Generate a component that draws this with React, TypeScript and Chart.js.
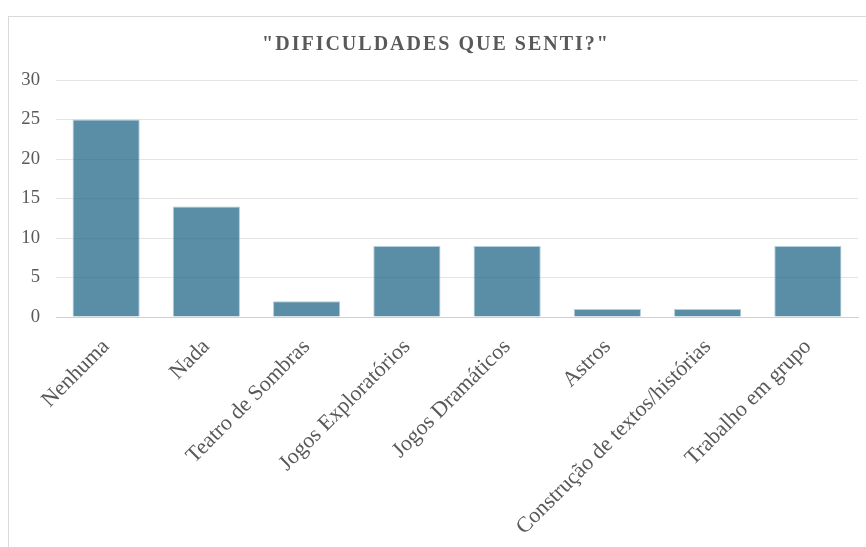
import React, { useEffect, useRef } from "react";
import { Chart, registerables } from "chart.js";

Chart.register(...registerables);

const TITLE = '"DIFICULDADES QUE SENTI?"';
const categories = [
  "Nenhuma",
  "Nada",
  "Teatro de Sombras",
  "Jogos Exploratórios",
  "Jogos Dramáticos",
  "Astros",
  "Construção de textos/histórias",
  "Trabalho em grupo",
];
const values = [25, 14, 2, 9, 9, 1, 1, 9];
const yMin = 0;
const yMax = 30;
const yStep = 5;

const FONT = '"Liberation Serif", "Times New Roman", serif';

export default function App() {
  const ref = useRef<HTMLCanvasElement | null>(null);
  useEffect(() => {
    if (!ref.current) return;
    const titlePlugin = {
      id: "customTitle",
      afterDraw(chart: any) {
        const ctx = chart.ctx as CanvasRenderingContext2D;
        ctx.save();
        ctx.font = `bold 20px ${FONT}`;
        (ctx as any).letterSpacing = "2px";
        ctx.fillStyle = "#595959";
        ctx.textAlign = "center";
        ctx.textBaseline = "middle";
        ctx.fillText(TITLE, 436, 45);
        ctx.restore();
      },
    };
    const chart = new Chart(ref.current, {
      type: "bar",
      data: {
        labels: categories,
        datasets: [
          {
            data: values,
            backgroundColor: "rgba(35,104,136,0.75)",
            borderColor: "rgba(170,200,215,0.9)",
            borderWidth: 1,
            categoryPercentage: 0.67,
            barPercentage: 1,
          },
        ],
      },
      options: {
        responsive: false,
        animation: false,
        layout: { padding: { left: 8, right: 8, top: 80, bottom: 0 } },
        plugins: {
          legend: { display: false },
          title: { display: false },
          tooltip: { enabled: false },
        },
        scales: {
          x: {
            grid: { display: false },
            border: { display: true, color: "#d0d0d0", width: 1 },
            ticks: {
              color: "#595959",
              font: { family: FONT, size: 22 },
              minRotation: 45,
              maxRotation: 45,
              autoSkip: false,
              padding: 9,
            },
            afterFit(scale: any) {
              scale.height = 230;
            },
          },
          y: {
            min: yMin,
            max: yMax,
            grid: { color: "#e4e4e4", drawTicks: false },
            border: { display: false },
            ticks: {
              stepSize: yStep,
              color: "#595959",
              font: { family: FONT, size: 18.67 },
              padding: 16,
            },
            afterFit(scale: any) {
              scale.width = 48;
            },
          },
        },
      },
      plugins: [titlePlugin],
    });
    return () => chart.destroy();
  }, []);
  return (
    <div>
      <div
        style={{
          position: "fixed",
          left: 8,
          top: 16,
          width: 858,
          height: 531,
          borderTop: "1px solid #d9d9d9",
          borderLeft: "1px solid #d9d9d9",
          boxSizing: "border-box",
        }}
      />
      <canvas
        ref={ref}
        width={866}
        height={547}
        style={{ position: "fixed", left: 0, top: 0, width: 866, height: 547 }}
      />
    </div>
  );
}
